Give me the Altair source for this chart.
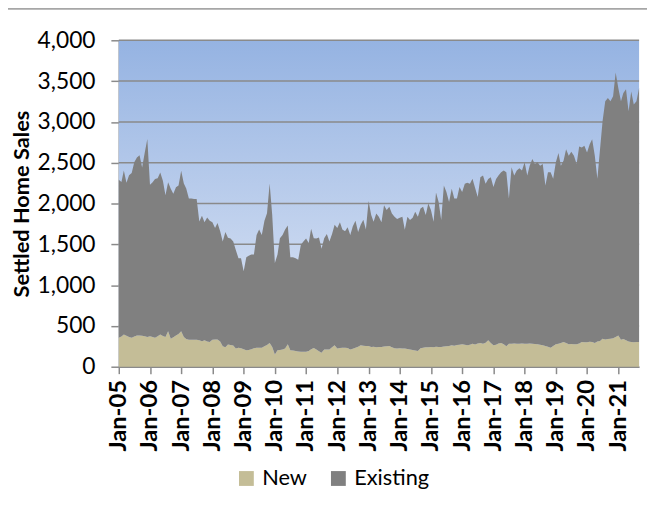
import altair as alt
import pandas as pd

# Top of the stacked area (New + Existing), monthly, Jan-05 .. Sep-21
total_2005 = [2290, 2265, 2404, 2255, 2345, 2375, 2505, 2565, 2590, 2440, 2625, 2790]
total_2006 = [2230, 2260, 2300, 2310, 2380, 2280, 2100, 2260, 2180, 2120, 2200, 2220]
total_2007 = [2400, 2245, 2185, 2060, 2060, 2055, 2055, 1780, 1850, 1770, 1830, 1790]
total_2008 = [1770, 1700, 1760, 1660, 1535, 1650, 1580, 1570, 1535, 1430, 1330, 1330]
total_2009 = [1170, 1340, 1360, 1375, 1375, 1615, 1680, 1615, 1790, 1880, 2245, 1860]
total_2010 = [1270, 1375, 1575, 1615, 1680, 1730, 1340, 1340, 1330, 1310, 1495, 1535]
total_2011 = [1570, 1515, 1690, 1575, 1570, 1585, 1445, 1575, 1625, 1535, 1625, 1740]
total_2012 = [1700, 1770, 1680, 1660, 1710, 1615, 1720, 1790, 1650, 1740, 1800, 1680]
total_2013 = [2030, 1859, 1778, 1879, 1838, 1770, 1980, 1920, 1960, 1879, 1838, 1810]
total_2014 = [1826, 1838, 1677, 1838, 1798, 1826, 1899, 1838, 1940, 1960, 1859, 2000]
total_2015 = [1920, 1778, 2134, 2020, 1798, 2222, 2141, 2020, 2182, 2060, 2060, 2202]
total_2016 = [2141, 2242, 2254, 2242, 2303, 2190, 2081, 2323, 2343, 2242, 2300, 2323]
total_2017 = [2202, 2300, 2343, 2384, 2404, 2384, 2060, 2444, 2343, 2404, 2432, 2404]
total_2018 = [2505, 2343, 2464, 2545, 2485, 2505, 2464, 2485, 2222, 2384, 2384, 2303]
total_2019 = [2505, 2618, 2464, 2525, 2666, 2586, 2634, 2586, 2485, 2699, 2687, 2707]
total_2020 = [2626, 2727, 2788, 2586, 2303, 2666, 3010, 3252, 3293, 3252, 3313, 3604]
total_2021 = [3414, 3252, 3353, 3401, 3131, 3373, 3212, 3252, 3414]

new_2005 = [355, 370, 396, 380, 364, 355, 370, 384, 384, 380, 372, 364]
new_2006 = [372, 365, 355, 372, 396, 375, 364, 436, 343, 360, 384, 400]
new_2007 = [436, 364, 340, 331, 331, 331, 331, 325, 311, 323, 310, 303]
new_2008 = [331, 335, 335, 310, 250, 240, 271, 265, 260, 222, 234, 225]
new_2009 = [215, 202, 205, 214, 225, 234, 234, 234, 250, 265, 291, 242]
new_2010 = [149, 202, 205, 210, 222, 275, 202, 198, 194, 188, 182, 182]
new_2011 = [182, 194, 215, 230, 210, 190, 170, 210, 210, 210, 240, 263]
new_2012 = [222, 230, 234, 232, 230, 210, 220, 234, 245, 263, 258, 255]
new_2013 = [255, 242, 245, 240, 242, 242, 248, 250, 255, 240, 225, 222]
new_2014 = [225, 222, 222, 218, 212, 205, 200, 194, 225, 234, 238, 240]
new_2015 = [242, 240, 245, 242, 242, 248, 250, 255, 263, 258, 265, 270]
new_2016 = [275, 270, 263, 270, 280, 272, 285, 291, 280, 295, 323, 290]
new_2017 = [263, 270, 285, 291, 275, 250, 280, 283, 285, 283, 283, 285]
new_2018 = [283, 280, 285, 283, 278, 275, 270, 263, 255, 245, 234, 255]
new_2019 = [275, 280, 290, 303, 290, 275, 278, 275, 275, 285, 303, 300]
new_2020 = [300, 305, 303, 290, 310, 315, 343, 335, 340, 343, 350, 365]
new_2021 = [384, 331, 340, 325, 310, 303, 300, 303, 303]

total_sales = (total_2005 + total_2006 + total_2007 + total_2008 + total_2009 + total_2010
               + total_2011 + total_2012 + total_2013 + total_2014 + total_2015 + total_2016
               + total_2017 + total_2018 + total_2019 + total_2020 + total_2021)
new_sales = (new_2005 + new_2006 + new_2007 + new_2008 + new_2009 + new_2010 + new_2011
             + new_2012 + new_2013 + new_2014 + new_2015 + new_2016 + new_2017 + new_2018
             + new_2019 + new_2020 + new_2021)

series_names = ["New", "Existing"]
series_colors = ["#C4BD97", "#808080"]
y_ticks = [0, 500, 1000, 1500, 2000, 2500, 3000, 3500, 4000]
tick_years = list(range(2005, 2022))

months = pd.date_range("2005-01-01", periods=len(total_sales), freq="MS")
rows = []
for d, t, n in zip(months, total_sales, new_sales):
    ds = d.strftime("%Y-%m-%dT00:00:00")
    rows.append({"date": ds, "series": "New", "value": n, "ord": 0})
    rows.append({"date": ds, "series": "Existing", "value": t - n, "ord": 1})
df = pd.DataFrame(rows)

FONT = "Lato"
W, H = 526, 330
GRID = "#8a8a8a"

y_scale = alt.Scale(domain=[0, 4000], nice=False)

x_axis = alt.Axis(
    values=[alt.DateTime(year=y, month=1, date=1) for y in tick_years],
    format="%b-%y", labelAngle=-90, labelFontSize=24, labelFontWeight="bold",
    labelColor="#000000", labelFont=FONT, labelPadding=6,
    tickSize=7, tickColor=GRID, tickWidth=1.5,
    domainColor=GRID, domainWidth=1.5, grid=False, title=None,
)


def y_axis():
    return alt.Axis(
        values=y_ticks, format=",d", labelFontSize=23, labelColor="#000000", labelFont=FONT,
        labelPadding=16, tickSize=8, tickColor=GRID, tickWidth=1.5,
        domainColor=GRID, domainWidth=1.5, grid=False,
        title="Settled Home Sales", titleFontSize=22, titleFontWeight="bold",
        titleFont=FONT, titleColor="#000000",
        titleX=-98, titleY=H / 2, titleBaseline="middle", titleAlign="center",
        titleAngle=270,
    )


background = alt.Chart(pd.DataFrame({"a": [0]})).mark_rect(
    color=alt.Gradient(gradient="linear", x1=0, y1=0, x2=0, y2=1,
                       stops=[alt.GradientStop(offset=0, color="#95B3E2"),
                              alt.GradientStop(offset=1, color="#E2E9F6")])
).encode(x=alt.value(0), x2=alt.value(W), y=alt.value(0), y2=alt.value(H))

grid = alt.Chart(pd.DataFrame({"tick": y_ticks})).mark_rule(
    color=GRID, strokeWidth=1.5
).encode(y=alt.Y("tick:Q", scale=y_scale, axis=y_axis()))

areas = alt.Chart(df).mark_area(opacity=1, strokeWidth=0).encode(
    x=alt.X("date:T", axis=x_axis,
            scale=alt.Scale(domain=[alt.DateTime(year=2005, month=1, date=1),
                                    alt.DateTime(year=2021, month=9, date=1)], nice=False)),
    y=alt.Y("value:Q", stack="zero", axis=y_axis(), scale=y_scale),
    color=alt.Color("series:N", sort=series_names,
                    scale=alt.Scale(domain=series_names, range=series_colors),
                    legend=alt.Legend(orient="none", legendX=118, legendY=432,
                                      direction="horizontal", title=None,
                                      symbolType="square", symbolSize=225,
                                      symbolStrokeWidth=0, labelFontSize=22,
                                      labelFont=FONT, labelColor="#000000",
                                      labelOffset=5, columnPadding=20)),
    order=alt.Order("ord:Q"),
)

top_line = alt.Chart(pd.DataFrame({"a": [0]})).mark_rule(
    color="#a6a6a6", strokeWidth=2
).encode(x=alt.value(-120), x2=alt.value(540), y=alt.value(-32))

chart = alt.layer(background, grid, areas, top_line).properties(
    width=W, height=H,
    autosize=alt.AutoSizeParams(type="none"),
    padding={"left": 112, "top": 30, "right": 8, "bottom": 124},
).configure_view(stroke=None)

chart.save("out.html", embed_options={"renderer": "svg", "actions": False})
